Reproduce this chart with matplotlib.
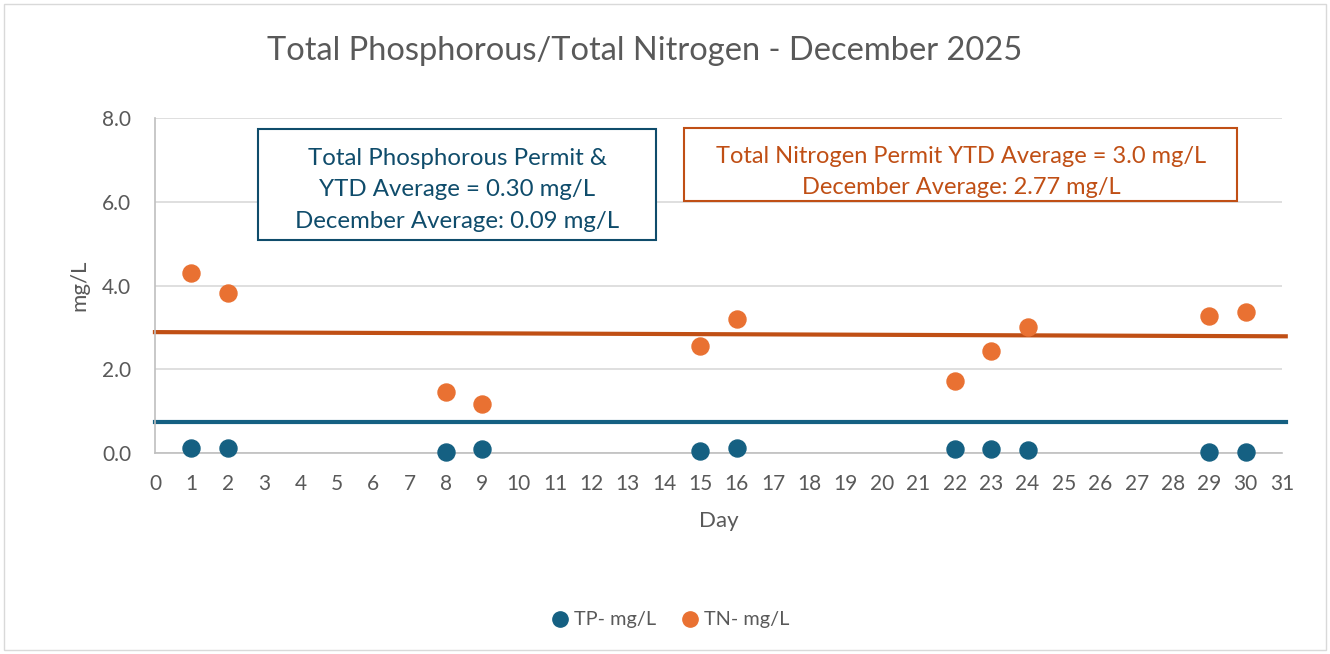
import matplotlib
matplotlib.use("Agg")
import matplotlib.pyplot as plt
from matplotlib.patches import Rectangle
from matplotlib.lines import Line2D

plt.rcParams['font.family'] = ['Lato', 'DejaVu Sans']

days = [1, 2, 8, 9, 15, 16, 22, 23, 24, 29, 30]
tp_values = [0.12, 0.12, 0.03, 0.10, 0.05, 0.12, 0.10, 0.10, 0.08, 0.03, 0.03]
tn_values = [4.30, 3.82, 1.46, 1.17, 2.55, 3.20, 1.72, 2.43, 3.01, 3.27, 3.37]
tn_line_x = [0, 31.1]
tn_line_y = [2.89, 2.79]
tp_line_x = [0, 31.1]
tp_line_y = [0.74, 0.74]
x_ticks = list(range(0, 32))
y_ticks = [0.0, 2.0, 4.0, 6.0, 8.0]

BLUE = '#156082'
ORANGE = '#E97132'
DARK_ORANGE = '#C04F15'
GREY = '#595959'
BOX_BLUE = '#0F4C6B'

fig = plt.figure(figsize=(13.3, 6.54), dpi=100)
fig.patches.append(Rectangle((0.003, 0.006), 0.994, 0.988, transform=fig.transFigure,
                             fill=False, edgecolor='#D9D9D9', linewidth=1))

ax = fig.add_axes([0.1165, 0.307, 0.8475, 0.5126])
ax.set_xlim(0, 31)
ax.set_ylim(0, 8)
ax.set_xticks(x_ticks)
ax.set_yticks(y_ticks)
ax.set_yticklabels([f"{v:.1f}" for v in y_ticks])
ax.tick_params(axis='both', length=0, labelsize=15, colors=GREY)
ax.tick_params(axis='y', pad=17)
ax.tick_params(axis='x', pad=15)
ax.grid(axis='y', color='#D9D9D9', linewidth=1.2)
ax.set_axisbelow(True)
for s in ['top', 'right']:
    ax.spines[s].set_visible(False)
ax.spines['left'].set_color('#BFBFBF')
ax.spines['bottom'].set_color('#BFBFBF')
ax.spines['left'].set_linewidth(1.2)
ax.spines['bottom'].set_linewidth(1.2)

ax.plot(tn_line_x, tn_line_y, color=DARK_ORANGE, linewidth=3, clip_on=False, zorder=2)
ax.plot(tp_line_x, tp_line_y, color=BLUE, linewidth=3, clip_on=False, zorder=2)

ax.scatter(days, tp_values, s=150, color=BLUE, zorder=3, clip_on=False, label='TP- mg/L')
ax.scatter(days, tn_values, s=150, color=ORANGE, zorder=3, clip_on=False, label='TN- mg/L')

ax.set_xlabel('Day', fontsize=16, color=GREY, labelpad=12)
ax.set_ylabel('mg/L', fontsize=16, color=GREY, labelpad=9)

fig.text(0.485, 0.922, 'Total Phosphorous/Total Nitrogen - December 2025',
         ha='center', va='center', fontsize=23.5, color=GREY)

# annotation boxes
fig.patches.append(Rectangle((258/1330, 1-240/654), (656-258)/1330, (240-129)/654,
                             transform=fig.transFigure, fill=True, facecolor='white',
                             edgecolor=BOX_BLUE, linewidth=1.5, zorder=5))
fig.text(457/1330, 1-190/654,
         'Total Phosphorous Permit &\nYTD Average = 0.30 mg/L\nDecember Average: 0.09 mg/L',
         ha='center', va='center', fontsize=17.3, color=BOX_BLUE, linespacing=1.62, zorder=6)

fig.patches.append(Rectangle((684/1330, 1-201/654), (1237/1330-684/1330), (201-128)/654,
                             transform=fig.transFigure, fill=True, facecolor='white',
                             edgecolor=DARK_ORANGE, linewidth=1.5, zorder=5))
fig.text(961/1330, 1-172/654,
         'Total Nitrogen Permit YTD Average = 3.0 mg/L\nDecember Average: 2.77 mg/L',
         ha='center', va='center', fontsize=17, color=DARK_ORANGE, linespacing=1.6, zorder=6)

handles = [Line2D([], [], marker='o', linestyle='none', markersize=11, color=BLUE),
           Line2D([], [], marker='o', linestyle='none', markersize=11, color=ORANGE)]
fig.legend(handles, ['TP- mg/L', 'TN- mg/L'], loc='center', bbox_to_anchor=(0.5, 1-620/654),
           ncol=2, frameon=False, fontsize=14.3, labelcolor=GREY, handletextpad=-0.3,
           columnspacing=0.7)

fig.savefig('out.png', dpi=100)
